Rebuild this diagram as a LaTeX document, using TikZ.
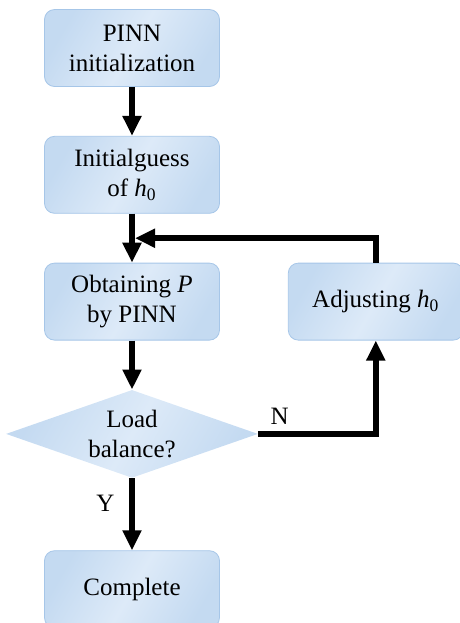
\documentclass[tikz,border=0pt]{standalone}
\usepackage{fontspec}
\setmainfont{Liberation Serif}
\usetikzlibrary{arrows.meta,positioning,shapes.geometric,calc}
\definecolor{boxfill}{RGB}{196,218,241}
\definecolor{boxlight}{RGB}{221,234,248}
\definecolor{boxline}{RGB}{166,198,232}
\newcommand{\hz}{\textit{h}\textsubscript{0}}

\begin{document}
\begin{tikzpicture}[>={Triangle[length=10pt,width=9pt]}, node distance=24.5pt and 34pt,
		every node/.style={font=\rmfamily\fontsize{12.5}{15}\selectfont},
		sheen/.style={left color=boxfill, right color=boxfill, middle color=boxlight, shading angle=60},
		stepbox/.style={draw=boxline, sheen, rounded corners=5pt, minimum width=87.5pt, minimum height=38.5pt, align=center, inner sep=2pt},
		test/.style={diamond, sheen, aspect=2.86, minimum width=126pt, minimum height=44pt, inner sep=0pt, align=center},
		flow/.style={->, line width=3pt}]
		\useasboundingbox (0,0) rectangle (230pt,-311.5pt);
		\node[stepbox] (init) at (66pt,-24pt) {PINN\\initialization};
		\node[stepbox] (guess) [below=of init] {Initialguess\\of \hz};
		\node[stepbox] (pinn) [below=of guess] {Obtaining \textit{P}\\by PINN};
		\node[test] (check) [below=of pinn] {Load\\balance?};
		\node[stepbox] (done) [below=36pt of check] {Complete};
		\node[stepbox] (adjust) [right=of pinn] {Adjusting \hz};
		\coordinate (merge) at ($(guess.south)!0.5!(pinn.north)+(1.5pt,0)$);
		\draw[flow] (init) -- (guess);
		\draw[flow] (guess) -- (pinn);
		\draw[flow] (pinn) -- (check);
		\draw[flow] (check.south) -- node[pos=0.35, left=4pt] {Y} (done);
		\draw[flow] (check.east) -| node[pos=0.09, above] {N} (adjust.south);
		\draw[flow] (adjust.north) |- (merge);
	\end{tikzpicture}
\end{document}
